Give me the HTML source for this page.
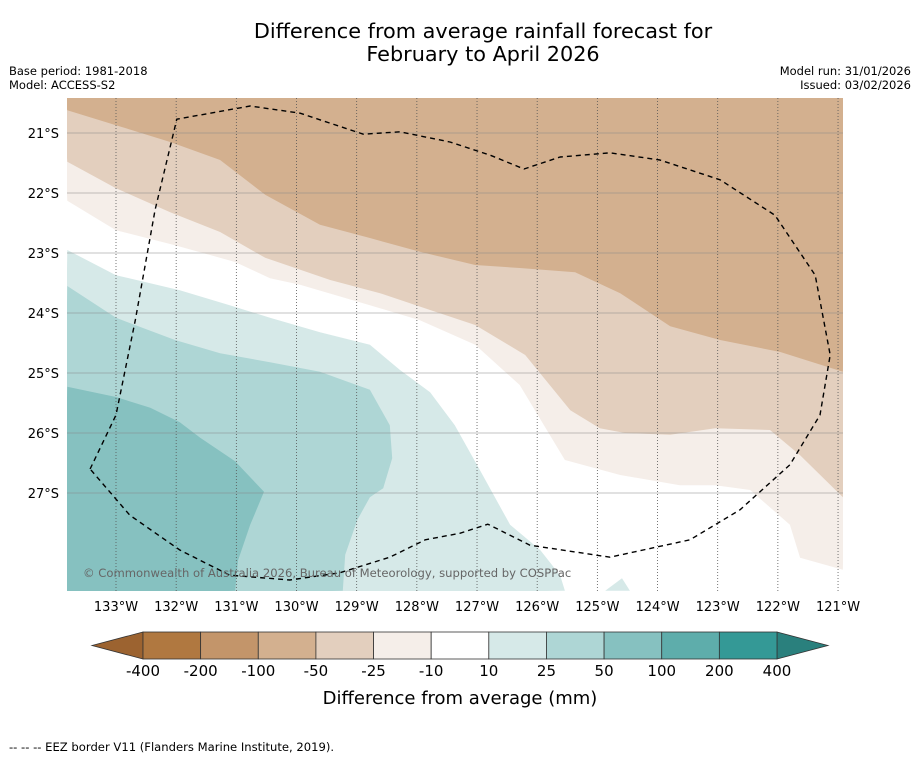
<!DOCTYPE html>
<html><head><meta charset="utf-8"><style>
body{margin:0;background:#fff;font-family:"Liberation Sans",sans-serif;}
svg text{font-family:"DejaVu Sans","Liberation Sans",sans-serif;}
</style></head><body>
<svg id="chart" width="919" height="758" xmlns="http://www.w3.org/2000/svg">
<rect width="919" height="758" fill="#fff"/>
<text x="483" y="38" font-size="20.8" text-anchor="middle">Difference from average rainfall forecast for</text>
<text x="483" y="61" font-size="20.8" text-anchor="middle">February to April 2026</text>
<text x="9" y="75" font-size="11.5">Base period: 1981-2018</text>
<text x="9" y="89" font-size="11.5">Model: ACCESS-S2</text>
<text x="911" y="75" font-size="11.5" text-anchor="end">Model run: 31/01/2026</text>
<text x="911" y="89" font-size="11.5" text-anchor="end">Issued: 03/02/2026</text>
<g id="map"></g>
<g id="cbar"></g>
<text x="460" y="704" font-size="18" text-anchor="middle">Difference from average (mm)</text>
<text x="9" y="751" font-size="11.6">--  --  -- EEZ border V11 (Flanders Marine Institute, 2019).</text>
</svg>
<script>
const lonTicks=[-133,-132,-131,-130,-129,-128,-127,-126,-125,-124,-123,-122,-121];
const latTicks=[-21,-22,-23,-24,-25,-26,-27];
const levelLabels=["-400","-200","-100","-50","-25","-10","10","25","50","100","200","400"];
const levelColors=["#b07840","#c3956a","#d3b08f","#e3cfbe","#f5eee9","#ffffff","#d6e9e8","#aed6d5","#86c1c0","#5eadab","#349996"];
// contour boundaries [lon,lat]
const c25=[[-133.81,-22.13],[-133,-22.62],[-132.02,-22.87],[-131.02,-23.15],[-130.44,-23.42],[-129.94,-23.53],[-128.78,-23.87],[-127.95,-24.12],[-127.03,-24.53],[-126.29,-25.2],[-125.54,-26.45],[-124.62,-26.7],[-123.63,-26.87],[-123.04,-26.87],[-122.46,-26.95],[-121.8,-27.53],[-121.63,-28.08],[-120.92,-28.28]];
const c50=[[-133.81,-21.48],[-133,-21.92],[-132.1,-22.32],[-131.27,-22.65],[-130.52,-23.08],[-129.44,-23.45],[-128.61,-23.67],[-127.78,-23.95],[-127.03,-24.2],[-126.2,-24.7],[-125.45,-25.62],[-124.96,-25.92],[-124.54,-26],[-123.79,-26.03],[-123.04,-25.92],[-122.13,-25.95],[-121.63,-26.37],[-120.92,-27.07]];
const c100=[[-133.81,-20.62],[-133,-20.87],[-132.1,-21.15],[-131.27,-21.45],[-130.52,-22.03],[-129.61,-22.53],[-128.78,-22.75],[-127.95,-22.98],[-127.03,-23.2],[-126.29,-23.25],[-125.37,-23.32],[-124.62,-23.67],[-123.79,-24.22],[-122.96,-24.45],[-121.96,-24.65],[-120.92,-24.98]];
const t10=[[-133.81,-22.95],[-133,-23.37],[-131.94,-23.62],[-131.11,-23.87],[-130.44,-24.08],[-129.61,-24.32],[-128.78,-24.53],[-128.28,-24.95],[-127.78,-25.32],[-127.37,-25.87],[-126.95,-26.62],[-126.45,-27.53],[-125.95,-27.95],[-125.62,-28.37],[-125.54,-28.63]];
const t25=[[-133.81,-23.55],[-133,-24.08],[-132.02,-24.45],[-131.27,-24.67],[-130.44,-24.82],[-129.61,-24.98],[-128.78,-25.28],[-128.45,-25.87],[-128.41,-26.42],[-128.56,-26.92],[-128.78,-27.07],[-128.99,-27.45],[-129.19,-28.03],[-129.23,-28.63]];
const t50=[[-133.81,-25.23],[-133,-25.4],[-132.43,-25.58],[-131.94,-25.82],[-131.6,-26.08],[-131.02,-26.47],[-130.54,-26.98],[-130.77,-27.53],[-130.97,-28.12],[-131.02,-28.63]];
const tPatch=[[-124.87,-28.63],[-124.59,-28.42],[-124.46,-28.63]];
const eez=[[-133.43,-26.6],[-133,-25.7],[-132.68,-24.12],[-132.35,-22.28],[-131.99,-20.77],[-130.77,-20.55],[-129.94,-20.67],[-128.89,-21.02],[-128.28,-20.98],[-127.45,-21.15],[-126.78,-21.37],[-126.22,-21.6],[-125.62,-21.4],[-124.79,-21.33],[-123.96,-21.45],[-122.96,-21.78],[-122.05,-22.37],[-121.38,-23.37],[-121.13,-24.7],[-121.3,-25.7],[-121.8,-26.53],[-122.63,-27.28],[-123.46,-27.78],[-124.79,-28.07],[-126.12,-27.87],[-126.82,-27.52],[-127.28,-27.67],[-127.86,-27.78],[-128.45,-28.07],[-129.28,-28.33],[-130.11,-28.45],[-131.11,-28.37],[-131.94,-27.95],[-132.77,-27.37],[-133.43,-26.6]];
const X0=67,X1=843,Y0=98,Y1=591;
const px=lon=>116+(lon+133)*60.17;
const py=lat=>133+(-21-lat)*60;
const NS="http://www.w3.org/2000/svg";
const map=document.getElementById('map');
function mk(t,a,p){const e=document.createElementNS(NS,t);for(const k in a)e.setAttribute(k,a[k]);(p||map).appendChild(e);return e;}
const pts=a=>a.map(p=>px(p[0]).toFixed(1)+','+py(p[1]).toFixed(1));
const defs=mk('defs',{});const cp=mk('clipPath',{id:'clip'},defs);mk('rect',{x:X0,y:Y0,width:X1-X0,height:Y1-Y0},cp);
const g=mk('g',{'clip-path':'url(#clip)'});
let e;
e=mk('rect',{x:X0,y:Y0,width:X1-X0,height:Y1-Y0,fill:'#fff'},g);

function above(line,col,name){e=mk('polygon',{points:pts(line).join(' ')+` ${X1+5},${Y0-5} ${X0-5},${Y0-5}`,fill:col},g);
}
function below(line,col,name){e=mk('polygon',{points:pts(line).join(' ')+` ${X0-5},${Y1+5}`,fill:col},g);
}
above(c25,levelColors[4],'contour-minus25');
above(c50,levelColors[3],'contour-minus50');
above(c100,levelColors[2],'contour-minus100');
below(t10,levelColors[6],'contour-plus10');
below(t25,levelColors[7],'contour-plus25');
below(t50,levelColors[8],'contour-plus50');
e=mk('polygon',{points:pts(tPatch).join(' '),fill:levelColors[6]},g);

lonTicks.forEach(l=>{const x=px(l);
e=mk('line',{x1:x,x2:x,y1:Y0,y2:Y1,stroke:'#555','stroke-width':0.8,'stroke-dasharray':'1,2'},g);

e=mk('text',{x:x,y:611,'font-size':13,'text-anchor':'middle'});e.textContent=Math.abs(l)+'°W';
});
latTicks.forEach(l=>{const y=py(l);
e=mk('line',{x1:X0,x2:X1,y1:y,y2:y,stroke:'#888','stroke-width':0.6},g);

e=mk('text',{x:59,y:y+5,'font-size':13,'text-anchor':'end'});e.textContent=Math.abs(l)+'°S';
});
e=mk('polyline',{points:pts(eez).join(' '),fill:'none',stroke:'#000','stroke-width':1.4,'stroke-dasharray':'5,4','stroke-linejoin':'round'},g);

e=mk('text',{x:83,y:577,'font-size':11.6,fill:'#666'},g);e.textContent='© Commonwealth of Australia 2026, Bureau of Meteorology, supported by COSPPac';

// colorbar
const cb=document.getElementById('cbar');
const CB0=143,CB1=777,CY0=632,CY1=659,n=levelColors.length,w=(CB1-CB0)/n;
e=mk('polygon',{points:`92,${(CY0+CY1)/2} ${CB0},${CY0} ${CB0},${CY1}`,fill:'#9c6330',stroke:'#333','stroke-width':0.8},cb);

e=mk('polygon',{points:`828,${(CY0+CY1)/2} ${CB1},${CY0} ${CB1},${CY1}`,fill:'#2a807d',stroke:'#333','stroke-width':0.8},cb);

levelColors.forEach((c,i)=>{e=mk('rect',{x:CB0+i*w,y:CY0,width:w,height:CY1-CY0,fill:c,stroke:'#333','stroke-width':0.8},cb);
});
levelLabels.forEach((t,i)=>{e=mk('text',{x:CB0+i*w,y:676,'font-size':15,'text-anchor':'middle'},cb);e.textContent=t;
});
</script>
</body></html>
